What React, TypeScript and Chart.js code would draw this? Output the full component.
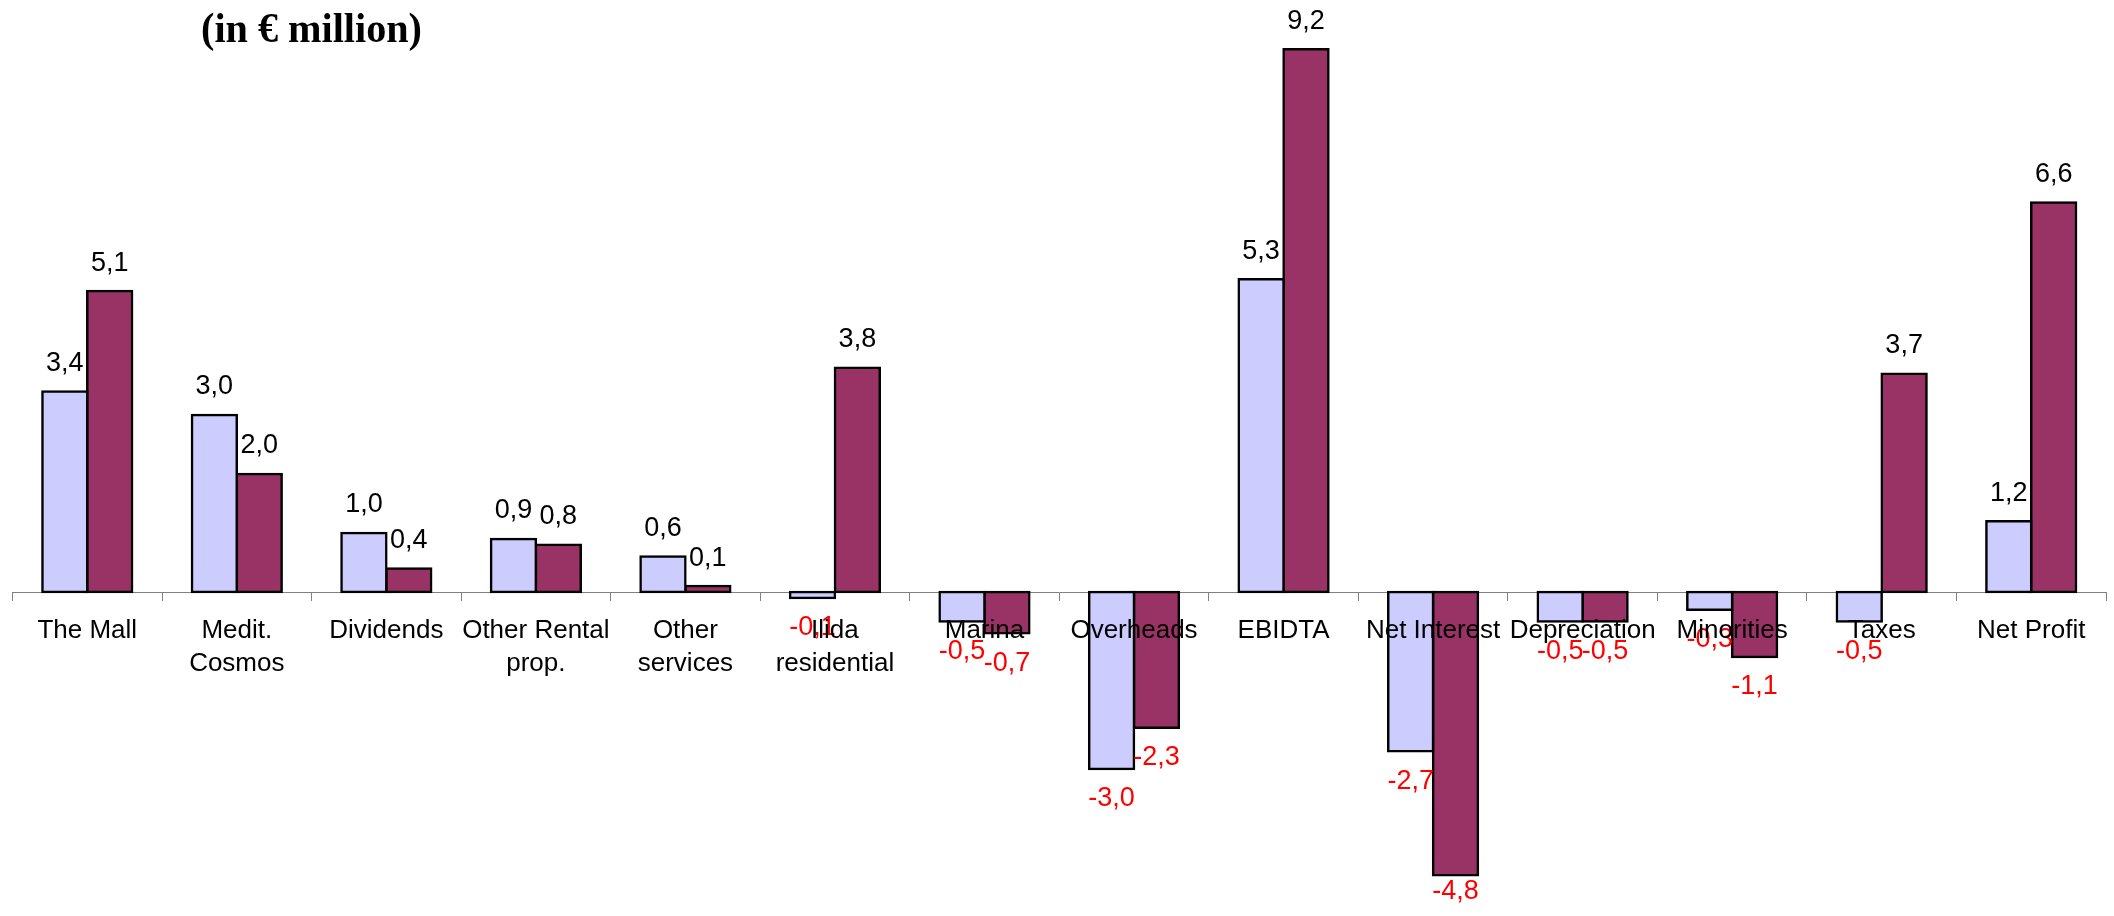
import React, { useEffect, useRef } from "react";
import { Chart, registerables } from "chart.js";

Chart.register(...registerables);

const categories: (string | string[])[] = [
  "The Mall",
  ["Medit.", "Cosmos"],
  "Dividends",
  ["Other Rental", "prop."],
  ["Other", "services"],
  ["Ilida", "residential"],
  "Marina",
  "Overheads",
  "EBIDTA",
  "Net Interest",
  "Depreciation",
  "Minorities",
  "Taxes",
  "Net Profit",
];

const seriesA: number[] = [3.4, 3.0, 1.0, 0.9, 0.6, -0.1, -0.5, -3.0, 5.3, -2.7, -0.5, -0.3, -0.5, 1.2];
const seriesB: number[] = [5.1, 2.0, 0.4, 0.8, 0.1, 3.8, -0.7, -2.3, 9.2, -4.8, -0.5, -1.1, 3.7, 6.6];

const titleText = "(in € million)";

const FONT = '"Liberation Sans", Arial, sans-serif';

const labelPlugin = {
  id: "valueLabels",
  afterDatasetsDraw(chart: any) {
    const ctx = chart.ctx;
    ctx.save();
    ctx.font = `27px ${FONT}`;
    ctx.textAlign = "center";
    ctx.textBaseline = "middle";
    const area = chart.chartArea;
    chart.data.datasets.forEach((ds: any, di: number) => {
      const meta = chart.getDatasetMeta(di);
      meta.data.forEach((el: any, i: number) => {
        const v = ds.data[i] as number;
        const txt = v.toFixed(1).replace(".", ",");
        let y = v >= 0 ? el.y - 28 : el.y + 30;
        if (y > area.bottom + 5) y = area.bottom + 5;
        ctx.fillStyle = v < 0 ? "#FF0000" : "#000000";
        ctx.fillText(txt, el.x, y);
      });
    });
    ctx.restore();
  },
};

const titlePlugin = {
  id: "titleText",
  afterDraw(chart: any) {
    const ctx = chart.ctx;
    ctx.save();
    ctx.font = `bold 43px "Liberation Serif", "Times New Roman", serif`;
    ctx.fillStyle = "#000";
    ctx.textBaseline = "alphabetic";
    ctx.textAlign = "left";
    const w = ctx.measureText(titleText).width;
    const target = 221;
    ctx.translate(201, 42);
    ctx.scale(target / w, 1);
    ctx.fillText(titleText, 0, 0);
    ctx.restore();
  },
};

export default function App() {
  const ref = useRef<HTMLCanvasElement | null>(null);

  useEffect(() => {
    if (!ref.current) return;
    const barStyle = {
      borderColor: "#000000",
      borderWidth: 2.5,
      borderSkipped: false,
      inflateAmount: 1.25,
      categoryPercentage: 0.6,
      barPercentage: 1.0,
    };
    const chart = new Chart(ref.current, {
      type: "bar",
      data: {
        labels: categories,
        datasets: [
          { label: "A", data: seriesA, backgroundColor: "#CCCCFF", ...barStyle },
          { label: "B", data: seriesB, backgroundColor: "#993366", ...barStyle },
        ] as any,
      },
      options: {
        animation: false,
        responsive: true,
        maintainAspectRatio: false,
        layout: { padding: { left: 12.5, right: 8, top: 2, bottom: 29 } },
        plugins: {
          legend: { display: false },
          tooltip: { enabled: false },
          title: { display: false },
        },
        scales: {
          x: {
            type: "category",
            position: { y: 0 } as any,
            offset: true,
            grid: {
              offset: true,
              drawOnChartArea: false,
              drawTicks: true,
              tickLength: 8,
              color: "#808080",
              z: -1,
            },
            border: { display: true, color: "#808080", width: 1, z: 0 },
            ticks: {
              z: 1,
              autoSkip: false,
              maxRotation: 0,
              minRotation: 0,
              padding: 15,
              color: "#000000",
              font: { family: FONT, size: 26, lineHeight: 1.24 },
            },
          },
          y: {
            display: false,
            min: -5,
            max: 10,
          },
        },
      } as any,
      plugins: [labelPlugin, titlePlugin],
    });
    return () => chart.destroy();
  }, []);

  return (
    <div style={{ position: "fixed", left: 0, top: 0, width: 2114, height: 916, background: "#fff" }}>
      <canvas ref={ref} />
    </div>
  );
}
